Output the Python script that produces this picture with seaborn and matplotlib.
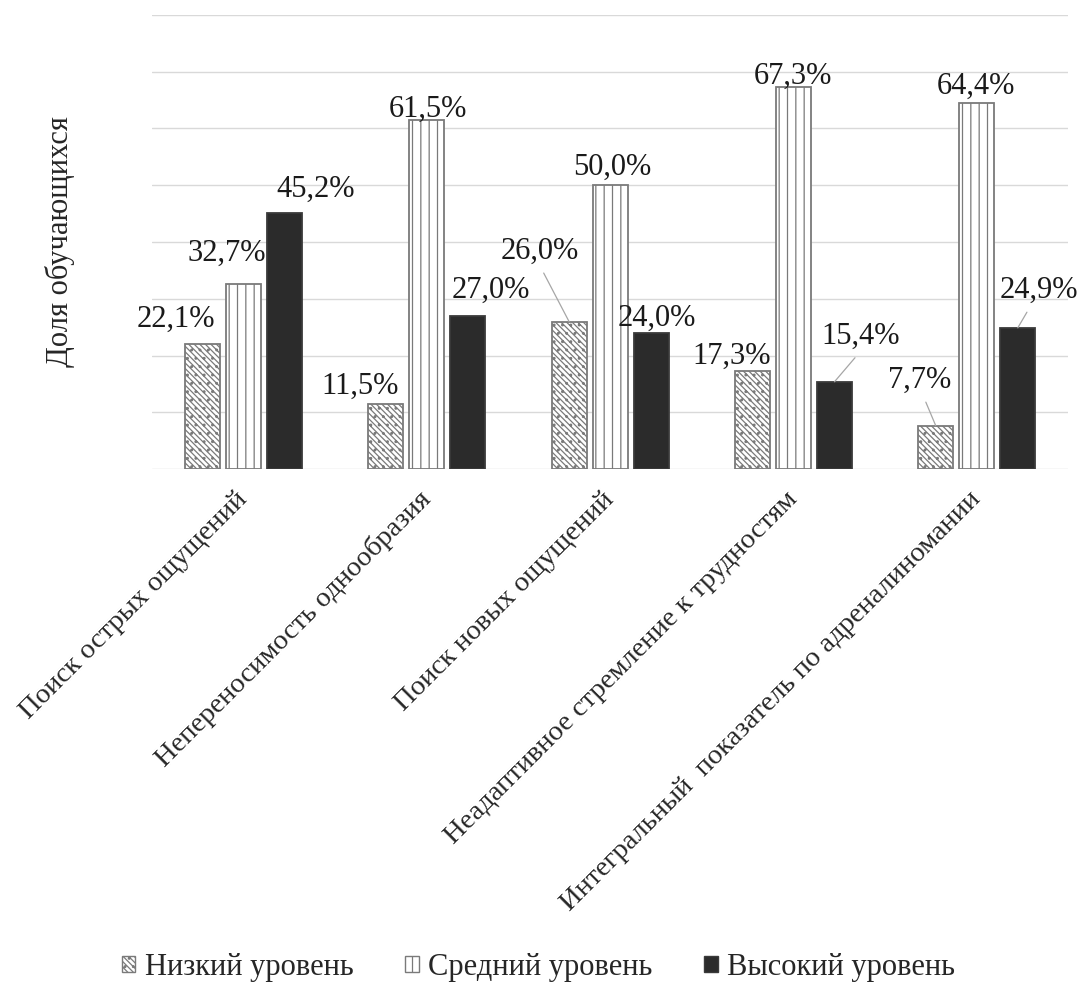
import matplotlib
matplotlib.use("Agg")
import matplotlib.pyplot as plt
from matplotlib.patches import Patch
import seaborn as sns
import pandas as pd

categories = [
    "Поиск острых ощущений",
    "Непереносимость однообразия",
    "Поиск новых ощущений",
    "Неадаптивное стремление к трудностям",
    "Интегральный  показатель по адреналиномании",
]
levels = ["Низкий уровень", "Средний уровень", "Высокий уровень"]
low_values = [22.1, 11.5, 26.0, 17.3, 7.7]
mid_values = [32.7, 61.5, 50.0, 67.3, 64.4]
high_values = [45.2, 27.0, 24.0, 15.4, 24.9]
y_ticks = [0, 10, 20, 30, 40, 50, 60, 70, 80]

rows = []
for level, vals in zip(levels, [low_values, mid_values, high_values]):
    for cat, v in zip(categories, vals):
        rows.append({"category": cat, "level": level, "value": v})
df = pd.DataFrame(rows)

sns.set_theme(style="white")
plt.rcParams["font.family"] = ["Liberation Serif", "DejaVu Serif"]
plt.rcParams["hatch.linewidth"] = 0.9

fig = plt.figure(figsize=(10.77, 9.9), dpi=100)
ax = fig.add_axes([0.141, 0.526, 0.851, 0.459])

sns.barplot(data=df, x="category", y="value", hue="level", order=categories,
            hue_order=levels, width=0.672, gap=0.146, ax=ax, legend=False,
            palette=["white", "white", "#2b2b2b"], saturation=1)

styles = [
    dict(facecolor="white", edgecolor="#7a7a7a", hatch="\\\\\\\\\\\\.."),
    dict(facecolor="white", edgecolor="#7a7a7a", hatch="||"),
    dict(facecolor="#2b2b2b", edgecolor="#3a3a3a", hatch=None),
]
for cont, st in zip(ax.containers, styles):
    for bar in cont:
        bar.set_facecolor(st["facecolor"])
        bar.set_edgecolor(st["edgecolor"])
        bar.set_linewidth(1.3)
        if st["hatch"]:
            bar.set_hatch(st["hatch"])

ax.set_ylim(0, 80)
ax.set_xlim(-0.5, len(categories) - 0.5)
ax.set_yticks(y_ticks)
ax.set_yticklabels([])
ax.yaxis.grid(True, color="#d9d9d9", linewidth=1.0)
ax.set_axisbelow(True)
for s in ax.spines.values():
    s.set_visible(False)
ax.tick_params(axis="both", length=0)
ax.tick_params(axis="x", pad=19)
ax.set_xlabel("")
ax.set_ylabel("Доля обучающихся", fontsize=22, va="center")
ax.yaxis.set_label_coords(-0.1, 0.5)
for lab in ax.get_xticklabels():
    lab.set_rotation(45)
    lab.set_ha("right")
    lab.set_va("center")
    lab.set_rotation_mode("anchor")
    lab.set_fontsize(20.5)

# label offsets in pixels (dx, dy up) from each bar's top centre
offsets = [
    [(-27, 24), (-26, 18), (-29, 70), (-21, 15), (-16, 45)],
    [(-17, 30), (1, 11), (2, 18), (0, 11), (-1, 17)],
    [(31, 23), (23, 26), (6, 15), (26, 45), (21, 37)],
]
leaders = {(0, 2): 0.5, (0, 4): 0.55, (2, 3): 0.5, (2, 4): 0.4}
k = 72 / 100
for si, cont in enumerate(ax.containers):
    for ci, bar in enumerate(cont):
        v = bar.get_height()
        x = bar.get_x() + bar.get_width() / 2
        dx, dy = offsets[si][ci]
        txt = f"{v:.1f}%".replace(".", ",")
        kw = {}
        if (si, ci) in leaders:
            kw["arrowprops"] = dict(arrowstyle="-", color="#a6a6a6", lw=0.9,
                                    shrinkA=3, shrinkB=0,
                                    relpos=(leaders[(si, ci)], 0.0))
        ax.annotate(txt, xy=(x, v), xytext=(dx * k, dy * k),
                    textcoords="offset points", ha="center", va="center",
                    fontsize=22, color="#1a1a1a", annotation_clip=False, **kw)

handles = [Patch(facecolor=st["facecolor"], edgecolor=st["edgecolor"],
                 hatch=st["hatch"], linewidth=1.0) for st in styles]
fig.legend(handles, levels, loc="center", bbox_to_anchor=(0.50, 0.023),
           ncol=3, frameon=False, fontsize=22, handlelength=0.45,
           handleheight=0.45, handletextpad=0.3, columnspacing=1.7)

fig.savefig("out.png", dpi=100, facecolor="white")
